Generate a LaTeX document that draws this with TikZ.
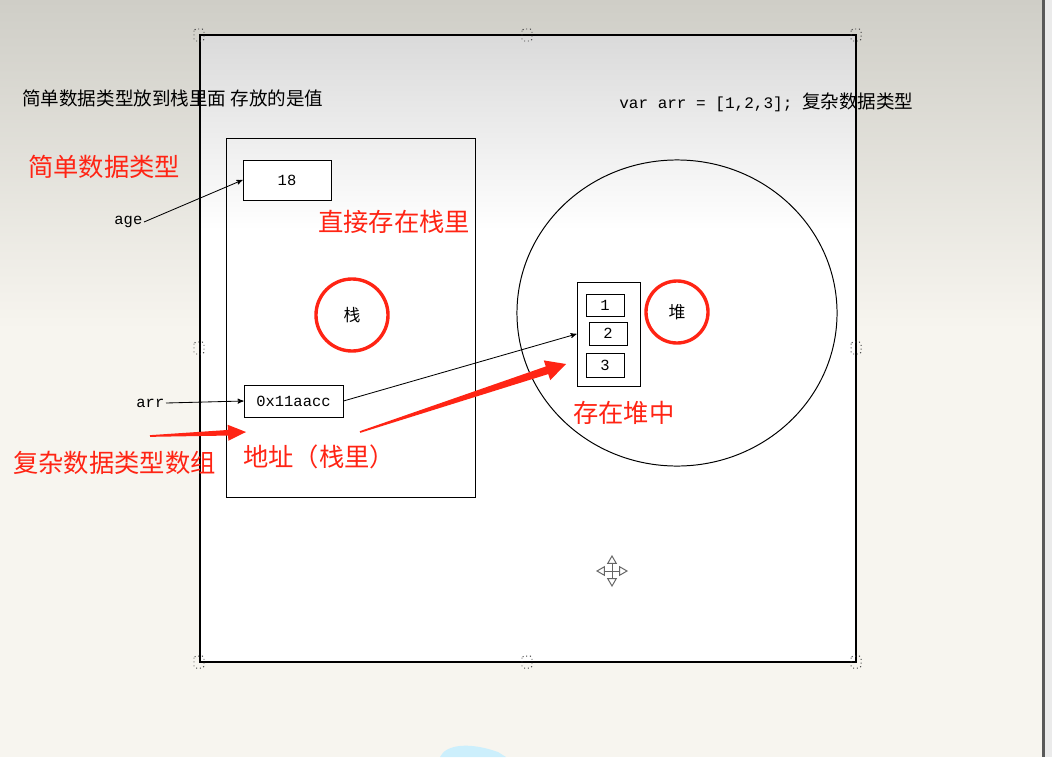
\documentclass[tikz,border=0pt]{standalone}
\usepackage{fontspec}
\setmonofont{Liberation Mono}
\newfontfamily\cjk{Noto Sans CJK SC}
\usetikzlibrary{calc}
\usetikzlibrary{arrows}
\usetikzlibrary{positioning,shapes.geometric}
\definecolor{notered}{RGB}{255,36,20}
\definecolor{deskbg}{RGB}{247,245,239}
\definecolor{desktop}{RGB}{207,206,199}
\definecolor{canvastop}{RGB}{218,218,218}
\tikzset{
  memcell/.style={draw, line width=0.6pt, fill=white, font=\ttfamily\fontsize{11}{13}\selectfont, inner sep=0pt},
  memlabel/.style={font=\ttfamily\fontsize{11}{13}\selectfont, inner sep=1pt},
  marker/.style={draw=notered, circle, line width=2.4pt, font=\cjk\fontsize{12}{14}\selectfont, inner sep=0pt},
  note/.style={text=notered, font=\cjk\fontsize{18}{21}\selectfont, anchor=west, inner sep=0pt},
  caption/.style={font=\cjk\fontsize{13.2}{15}\selectfont, anchor=west, inner sep=0pt},
  handle/.style={draw=black!75, dotted, rounded corners=1.2pt, line width=0.7pt},
  link/.style={->, line width=0.6pt},
}
% red hand-drawn style arrow: tail, tip, head length, head half width, shaft half width
\newcommand{\fatarrow}[5]{%
  \coordinate (fa-s) at (#1);
  \coordinate (fa-t) at (#2);
  \coordinate (fa-h) at ($(fa-t)!#3!(fa-s)$);
  \fill[notered] ($(fa-s)!0.6pt!90:(fa-t)$) -- ($(fa-h)!#5!90:(fa-t)$) -- ($(fa-h)!#4!90:(fa-t)$) -- (fa-t)
     -- ($(fa-h)!#4!-90:(fa-t)$) -- ($(fa-h)!#5!-90:(fa-t)$) -- ($(fa-s)!0.6pt!-90:(fa-t)$) -- cycle;}

\begin{document}
\begin{tikzpicture}[x=0.025cm, y=-0.025cm, >=stealth']
\useasboundingbox (0,0) rectangle (1052,757);
% desktop and window edge
\fill[deskbg] (0,0) rectangle (1052,757);
\shade[top color=desktop, bottom color=deskbg] (0,0) rectangle (1052,330);
\fill[black!65] (1042,0) rectangle (1045,757);
\fill[black!8] (1045,0) rectangle (1052,757);
\fill[cyan!20] (440,757) .. controls (446,744) and (470,742) .. (498,752) -- (506,757) -- cycle;
% canvas
\shade[top color=canvastop, bottom color=white] (200,35) rectangle (856,230);
\fill[white] (200,230) rectangle (856,662);
\draw[line width=0.8pt] (200,35) rectangle (856,662);
\foreach \hx/\hy in {199/35,527/35,856/35,199/348,856/348,199/662,527/662,856/662}
  \draw[handle] (\hx-5,\hy-6) rectangle (\hx+5,\hy+6);
% move cursor
\foreach \dx/\dy in {0/-16,0/16,-16/0,16/0}
  \draw[gray!80!black, line width=0.7pt, -open triangle 60] (612,571) -- ++(\dx,\dy);

% captions
\node[caption] (cap-stack) at (22,98) {简单数据类型放到栈里面 存放的是值};
\node[caption] (cap-heap) at (619,102) {{\ttfamily\fontsize{11.4}{13}\selectfont var arr = [1,2,3];\ }复杂数据类型};

% stack
\draw[line width=0.7pt] (226,138) rectangle (475,497);
\node[memcell, minimum width=2.2cm, minimum height=1cm] (val) at (287,180) {18};
\node[memcell, minimum width=2.475cm, minimum height=0.8cm] (addr) at (293.5,401) {0x11aacc};
\node[marker, minimum size=1.8cm] (stk) at (352,315) {栈};
\node[memlabel, anchor=east] (age) at (144,222) {age};
\node[memlabel, anchor=east] (arr) at (166,403) {arr};
\draw[link] (age.east) -- (val.west);
\draw[link] (arr.east) -- (addr.west);

% heap
\node[draw, ellipse, line width=0.7pt, minimum width=8cm, minimum height=7.65cm] (heap) at (677,313) {};
\node[memcell, minimum width=1.575cm, minimum height=2.6cm, fill=none] (arrbox) at (608.5,334) {};
\node[memcell, minimum width=0.95cm, minimum height=0.55cm] (c1) at (605,305) {1};
\node[memcell, minimum width=0.95cm, minimum height=0.575cm] (c2) at (608,333.5) {2};
\node[memcell, minimum width=0.95cm, minimum height=0.6cm] (c3) at (605,365) {3};
\node[marker, minimum size=1.55cm] (hp) at (677,312) {堆};
\draw[link] (addr.east) -- (arrbox.west);

% red notes
\node[note] (n-simple) at (28,167) {简单数据类型};
\node[note] (n-direct) at (318,222) {直接存在栈里};
\node[note] (n-complex) at (13,463) {复杂数据类型数组};
\node[note] (n-addr) at (243,457) {地址（栈里）};
\node[note] (n-inheap) at (573,413) {存在堆中};
\coordinate (tailA) at (150,436);
\coordinate (tipA) at (246,432);
\coordinate (tailB) at (360,432);
\coordinate (tipB) at (566,364);
\fatarrow{tailA}{tipA}{0.45cm}{0.2cm}{0.07cm}
\fatarrow{tailB}{tipB}{0.5cm}{0.26cm}{0.1cm}
\end{tikzpicture}
\end{document}
